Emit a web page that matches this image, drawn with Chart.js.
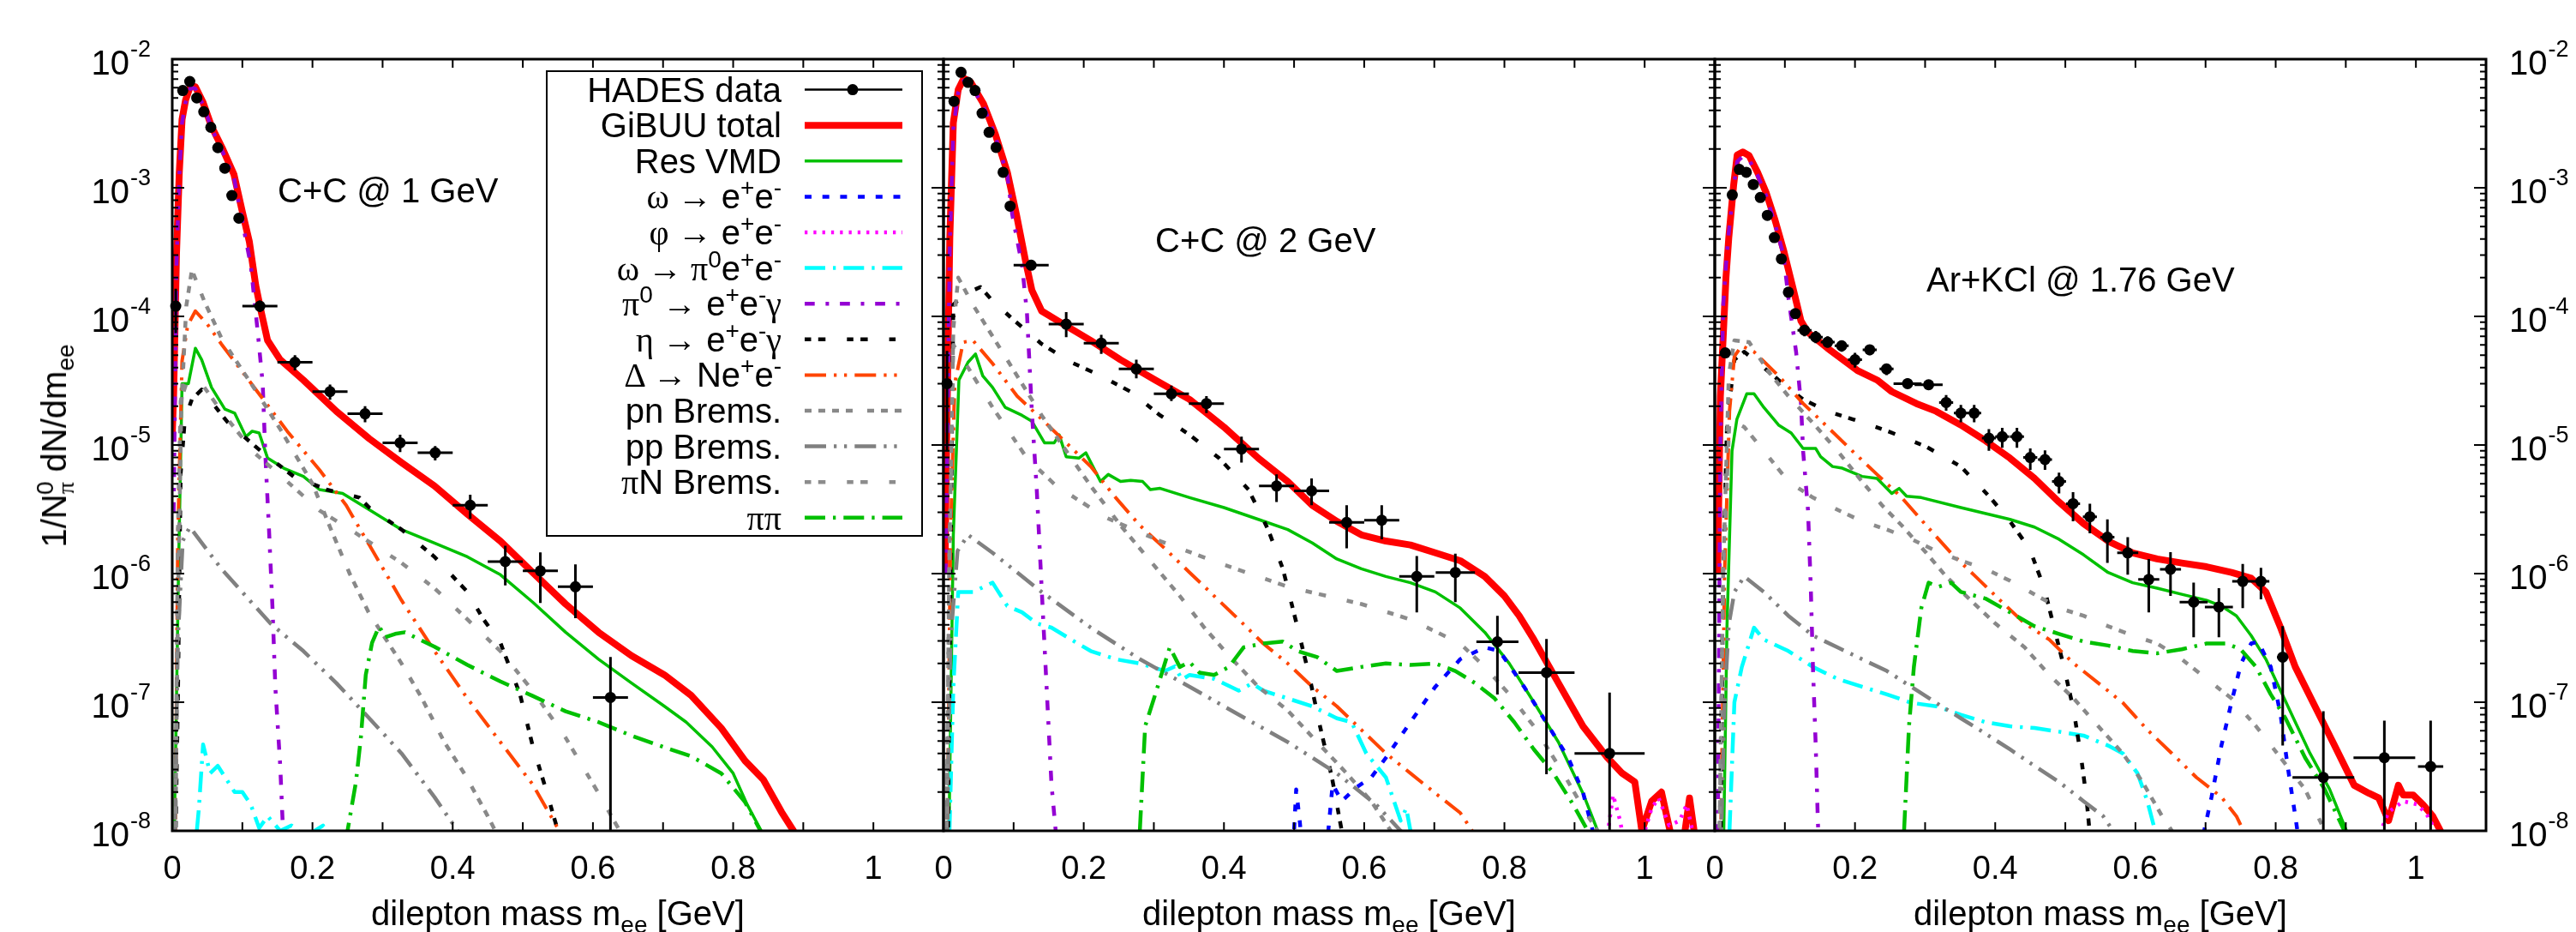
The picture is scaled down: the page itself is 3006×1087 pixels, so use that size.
<!DOCTYPE html>
<html lang="en">
<head>
<meta charset="UTF-8">
<title>Dilepton mass spectra: HADES vs GiBUU</title>
<script src="https://cdn.jsdelivr.net/npm/chart.js@4.4.0/dist/chart.umd.min.js"></script>
<style>
  body { margin: 0; background: #fff; }
  #wrap { position: relative; width: 3006px; height: 1087px; overflow: hidden;
          font-family: "Liberation Sans", Arial, sans-serif; color: #000; }
  canvas { position: absolute; left: 0; top: 0; }
  .txt { position: absolute; font-size: 40px; line-height: 40px; white-space: nowrap; }
  .xtitle { width: 800px; text-align: center; top: 1045px; }
  .g { font-family: "Liberation Serif", "DejaVu Serif", serif; }
  sup, sub { font-size: 28px; line-height: 0; }
  sup { vertical-align: 15px; }
  sub { vertical-align: -9px; }
  #ytitle { left: 63px; top: 520px; transform: translate(-50%, -50%) rotate(-90deg); }
  #legend { position: absolute; left: 637px; top: 82px; width: 436px; height: 540px;
            border: 2px solid #000; }
  #legend .row { position: absolute; right: 163px; font-size: 40px; line-height: 40px;
                 white-space: nowrap; text-align: right; }
  #legend svg { position: absolute; left: 0; top: 0; }
</style>
</head>
<body>
<div id="wrap">
  <canvas id="p1" width="3006" height="1087" data-ylabels="left"></canvas>
  <canvas id="p2" width="3006" height="1087" data-ylabels=""></canvas>
  <canvas id="p3" width="3006" height="1087" data-ylabels="right"></canvas>

  <div class="txt" style="left:324px;top:202px">C+C @ 1 GeV</div>
  <div class="txt" style="left:1348px;top:260px">C+C @ 2 GeV</div>
  <div class="txt" style="left:2248px;top:306px">Ar+KCl @ 1.76 GeV</div>

  <div class="txt xtitle" style="left:251px">dilepton mass m<sub>ee</sub> [GeV]</div>
  <div class="txt xtitle" style="left:1151px">dilepton mass m<sub>ee</sub> [GeV]</div>
  <div class="txt xtitle" style="left:2051px">dilepton mass m<sub>ee</sub> [GeV]</div>

  <div class="txt" id="ytitle">1/N<sub class="g">π</sub><sup style="margin-left:-15px">0</sup> dN/dm<sub>ee</sub></div>

  <div id="legend"></div>
</div>

<script>
// ---- axis ticks ----
const xTicks = [0, 0.1, 0.2, 0.3, 0.4, 0.5, 0.6, 0.7, 0.8, 0.9, 1.0];
const xLabelValues = [0, 0.2, 0.4, 0.6, 0.8, 1];
const xLabels = ['0', '0.2', '0.4', '0.6', '0.8', '1'];
const yDecades = [1e-2, 1e-3, 1e-4, 1e-5, 1e-6, 1e-7, 1e-8];
const yExponents = ['-2', '-3', '-4', '-5', '-6', '-7', '-8'];
const yMinorSteps = [2, 3, 4, 5, 6, 7, 8, 9];

// ---- C+C @ 1 GeV ----
// HADES rows: [x, y, xerr, ylow, yhigh]
const cc1Hades = [
  [0.005, 1.2e-4, 0, 7.4e-5, 1.64e-4],
  [0.015, 5.7e-3, 0, 5.7e-3, 5.7e-3],
  [0.025, 6.7e-3, 0, 6.7e-3, 6.7e-3],
  [0.035, 5.0e-3, 0, 5.0e-3, 5.0e-3],
  [0.045, 3.9e-3, 0, 3.9e-3, 3.9e-3],
  [0.055, 2.95e-3, 0, 2.95e-3, 2.95e-3],
  [0.065, 2.05e-3, 0, 2.05e-3, 2.05e-3],
  [0.075, 1.42e-3, 0, 1.42e-3, 1.42e-3],
  [0.085, 8.7e-4, 0, 8.7e-4, 8.7e-4],
  [0.095, 5.8e-4, 0, 5.8e-4, 5.8e-4],
  [0.125, 1.2e-4, 0.025, 1.08e-4, 1.33e-4],
  [0.175, 4.4e-5, 0.025, 3.8e-5, 5.0e-5],
  [0.225, 2.6e-5, 0.025, 2.25e-5, 2.95e-5],
  [0.275, 1.75e-5, 0.025, 1.5e-5, 2.0e-5],
  [0.325, 1.04e-5, 0.025, 8.8e-6, 1.2e-5],
  [0.375, 8.7e-6, 0.025, 7.6e-6, 9.8e-6],
  [0.425, 3.4e-6, 0.025, 2.67e-6, 4.1e-6],
  [0.475, 1.24e-6, 0.025, 8.1e-7, 1.65e-6],
  [0.525, 1.05e-6, 0.025, 5.9e-7, 1.46e-6],
  [0.575, 7.9e-7, 0.025, 4.5e-7, 1.18e-6],
  [0.625, 1.09e-7, 0.025, 1e-10, 2.25e-7]
];
const cc1Total = [[0,1.2e-5],[0.002,2.5e-5],[0.006,3e-4],[0.010,1.3e-3],[0.014,3.4e-3],[0.019,4.8e-3],[0.026,6.2e-3],[0.033,6.1e-3],[0.044,4.6e-3],[0.056,3.0e-3],[0.072,2.0e-3],[0.088,1.27e-3],[0.100,6.5e-4],[0.110,3.8e-4],[0.119,1.75e-4],[0.126,1.14e-4],[0.136,6.5e-5],[0.154,4.6e-5],[0.187,3.2e-5],[0.234,1.83e-5],[0.281,1.12e-5],[0.327,7.3e-6],[0.374,4.8e-6],[0.421,2.9e-6],[0.468,1.79e-6],[0.514,1.02e-6],[0.561,5.8e-7],[0.608,3.5e-7],[0.655,2.3e-7],[0.702,1.63e-7],[0.740,1.13e-7],[0.783,6.3e-8],[0.817,3.5e-8],[0.843,2.5e-8],[0.869,1.4e-8],[0.886,1.0e-8],[0.9,7e-9]];
const cc1Vmd = [[0.002,5e-9],[0.006,1e-7],[0.009,1.1e-6],[0.014,3.0e-5],[0.023,3.0e-5],[0.033,5.65e-5],[0.042,4.6e-5],[0.056,2.8e-5],[0.075,1.9e-5],[0.089,1.77e-5],[0.105,1.16e-5],[0.114,1.28e-5],[0.124,1.24e-5],[0.136,7.9e-6],[0.159,6.6e-6],[0.187,5.7e-6],[0.21,4.5e-6],[0.243,4.2e-6],[0.281,3.14e-6],[0.327,2.2e-6],[0.374,1.73e-6],[0.421,1.35e-6],[0.468,9.8e-7],[0.514,6.0e-7],[0.561,3.5e-7],[0.608,2.16e-7],[0.655,1.41e-7],[0.702,9.3e-8],[0.733,7.0e-8],[0.77,4.5e-8],[0.8,2.8e-8],[0.82,1.6e-8],[0.84,1.0e-8],[0.86,6e-9]];
const cc1Omega = [[0.70,3e-9],[0.78,5e-9],[0.85,3e-9]];
const cc1Phi = [[0.95,2e-9],[1.02,3e-9]];
const cc1OmegaDalitz = [[0.03,5e-9],[0.038,1.5e-8],[0.044,4.7e-8],[0.054,2.8e-8],[0.065,3.2e-8],[0.089,2.0e-8],[0.1,2.0e-8],[0.112,1.6e-8],[0.124,1.05e-8],[0.136,1.3e-8],[0.154,1.0e-8],[0.17,1.1e-8],[0.19,9e-9],[0.215,1.1e-8],[0.23,6e-9],[0.26,4e-9]];
const cc1Pi0 = [[0.002,3e-6],[0.006,2.5e-4],[0.010,1.2e-3],[0.014,3.2e-3],[0.019,4.6e-3],[0.026,6.0e-3],[0.033,5.9e-3],[0.044,4.4e-3],[0.056,2.9e-3],[0.072,1.9e-3],[0.088,1.2e-3],[0.098,6.2e-4],[0.112,2.5e-4],[0.122,7.5e-5],[0.129,3.0e-5],[0.133,7.9e-6],[0.138,2.2e-6],[0.143,5.4e-7],[0.147,1.32e-7],[0.154,3.2e-8],[0.158,1.0e-8],[0.162,5e-9]];
const cc1Eta = [[0.004,5e-9],[0.008,1e-7],[0.012,6e-6],[0.018,1.6e-5],[0.028,2.26e-5],[0.042,2.7e-5],[0.08,1.48e-5],[0.126,9e-6],[0.173,5.7e-6],[0.22,4.5e-6],[0.267,3.9e-6],[0.281,3.26e-6],[0.327,2.2e-6],[0.374,1.35e-6],[0.421,7.2e-7],[0.444,4.4e-7],[0.468,2.9e-7],[0.496,1.15e-7],[0.514,4.6e-8],[0.533,2.1e-8],[0.55,1.0e-8],[0.56,6e-9]];
const cc1Delta = [[0.004,5e-9],[0.008,2e-6],[0.014,4.5e-5],[0.022,8.5e-5],[0.033,1.1e-4],[0.05,8.7e-5],[0.07,6.1e-5],[0.117,2.8e-5],[0.164,1.28e-5],[0.21,6.4e-6],[0.248,3.4e-6],[0.281,1.67e-6],[0.327,6.2e-7],[0.374,2.5e-7],[0.421,1.07e-7],[0.468,4.9e-8],[0.514,2.3e-8],[0.552,1.0e-8],[0.57,7e-9]];
const cc1Pn = [[0.004,5e-9],[0.008,5e-7],[0.013,2e-5],[0.02,1.2e-4],[0.028,2.3e-4],[0.046,1.3e-4],[0.07,6.8e-5],[0.09,4.6e-5],[0.12,2.6e-5],[0.155,1.3e-5],[0.2,5.0e-6],[0.225,2.3e-6],[0.253,1.0e-6],[0.28,5e-7],[0.327,2e-7],[0.355,1.1e-7],[0.388,4.9e-8],[0.42,2.6e-8],[0.45,1.3e-8],[0.47,8e-9]];
const cc1Pp = [[0.003,5e-9],[0.008,3e-7],[0.015,1.8e-6],[0.025,2.3e-6],[0.07,1.09e-6],[0.14,4.1e-7],[0.187,2.5e-7],[0.234,1.41e-7],[0.281,7.5e-8],[0.327,4e-8],[0.374,1.83e-8],[0.407,1.0e-8],[0.42,7e-9]];
const cc1PiN = [[0.004,5e-9],[0.008,2e-6],[0.012,2.2e-5],[0.02,3e-5],[0.035,3.1e-5],[0.042,3.0e-5],[0.07,1.83e-5],[0.117,8.7e-6],[0.159,5.5e-6],[0.21,3.1e-6],[0.262,2.06e-6],[0.327,1.21e-6],[0.374,7.7e-7],[0.421,4.4e-7],[0.468,2.5e-7],[0.514,1.23e-7],[0.561,5.3e-8],[0.608,1.96e-8],[0.636,1.05e-8],[0.65,7e-9]];
const cc1PiPi = [[0.245,4e-9],[0.25,1e-8],[0.262,2.4e-8],[0.269,5.3e-8],[0.276,1.63e-7],[0.285,2.9e-7],[0.295,3.9e-7],[0.304,3.2e-7],[0.318,3.4e-7],[0.332,3.5e-7],[0.346,3.2e-7],[0.374,2.7e-7],[0.421,1.95e-7],[0.468,1.45e-7],[0.514,1.12e-7],[0.561,8.5e-8],[0.608,7e-8],[0.655,5.5e-8],[0.7,4.5e-8],[0.74,3.8e-8],[0.783,2.8e-8],[0.817,1.67e-8],[0.839,1.0e-8],[0.85,7e-9]];

// ---- C+C @ 2 GeV ----
const cc2Hades = [
  [0.005, 3.0e-5, 0, 8.9e-6, 5.4e-5],
  [0.015, 4.7e-3, 0, 4.7e-3, 4.7e-3],
  [0.025, 7.9e-3, 0, 7.9e-3, 7.9e-3],
  [0.035, 6.6e-3, 0, 6.6e-3, 6.6e-3],
  [0.045, 5.7e-3, 0, 5.7e-3, 5.7e-3],
  [0.055, 3.8e-3, 0, 3.8e-3, 3.8e-3],
  [0.065, 2.7e-3, 0, 2.7e-3, 2.7e-3],
  [0.075, 2.06e-3, 0, 2.06e-3, 2.06e-3],
  [0.085, 1.32e-3, 0, 1.32e-3, 1.32e-3],
  [0.095, 7.2e-4, 0, 7.2e-4, 7.2e-4],
  [0.125, 2.5e-4, 0.025, 2.3e-4, 2.7e-4],
  [0.175, 8.7e-5, 0.025, 6.9e-5, 1.08e-4],
  [0.225, 6.2e-5, 0.025, 5.1e-5, 7.2e-5],
  [0.275, 3.9e-5, 0.025, 3.3e-5, 4.6e-5],
  [0.325, 2.5e-5, 0.025, 2.2e-5, 2.9e-5],
  [0.375, 2.1e-5, 0.025, 1.77e-5, 2.4e-5],
  [0.425, 9.3e-6, 0.025, 7.3e-6, 1.16e-5],
  [0.475, 4.8e-6, 0.025, 3.6e-6, 5.9e-6],
  [0.525, 4.4e-6, 0.025, 3.4e-6, 5.5e-6],
  [0.575, 2.5e-6, 0.025, 1.57e-6, 3.4e-6],
  [0.625, 2.6e-6, 0.025, 1.85e-6, 3.4e-6],
  [0.675, 9.5e-7, 0.025, 5.0e-7, 1.37e-6],
  [0.73, 1.02e-6, 0.028, 6.0e-7, 1.43e-6],
  [0.79, 2.95e-7, 0.03, 1.15e-7, 4.7e-7],
  [0.86, 1.7e-7, 0.04, 2.75e-8, 3.1e-7],
  [0.95, 4.0e-8, 0.05, 1e-10, 1.19e-7]
];
const cc2Total = [[0.002,1e-6],[0.005,1.7e-5],[0.009,4.1e-4],[0.014,3.2e-3],[0.021,5.8e-3],[0.029,7.1e-3],[0.039,6.6e-3],[0.057,4.5e-3],[0.074,2.6e-3],[0.091,1.32e-3],[0.104,6.2e-4],[0.117,2.7e-4],[0.126,1.6e-4],[0.14,1.1e-4],[0.168,8.9e-5],[0.21,6.5e-5],[0.2525,4.6e-5],[0.302,3.2e-5],[0.351,2.26e-5],[0.4,1.38e-5],[0.449,7.9e-6],[0.491,5.2e-6],[0.526,3.4e-6],[0.561,2.55e-6],[0.596,2.0e-6],[0.631,1.79e-6],[0.666,1.67e-6],[0.7015,1.45e-6],[0.737,1.26e-6],[0.772,9.5e-7],[0.8,6.7e-7],[0.821,4.7e-7],[0.842,3.07e-7],[0.877,1.41e-7],[0.912,6.5e-8],[0.947,3.7e-8],[0.968,2.8e-8],[0.986,2.4e-8],[0.996,1.0e-8],[1.01,1.7e-8],[1.024,2.0e-8],[1.038,9e-9],[1.05,5e-9],[1.064,1.8e-8],[1.073,8e-9],[1.08,5e-9]];
const cc2Vmd = [[0.007,5e-9],[0.014,2e-6],[0.022,3.2e-5],[0.035,4.4e-5],[0.0456,5.1e-5],[0.056,3.45e-5],[0.07,2.8e-5],[0.088,1.96e-5],[0.112,1.7e-5],[0.126,1.53e-5],[0.144,1.04e-5],[0.158,1.04e-5],[0.165,1.2e-5],[0.175,8.1e-6],[0.193,7.9e-6],[0.203,8.7e-6],[0.224,5.2e-6],[0.235,5.9e-6],[0.2525,5.2e-6],[0.267,5.3e-6],[0.284,5.2e-6],[0.295,4.5e-6],[0.309,4.6e-6],[0.351,3.9e-6],[0.4,3.26e-6],[0.449,2.64e-6],[0.491,2.2e-6],[0.526,1.73e-6],[0.561,1.3e-6],[0.596,1.09e-6],[0.631,9.5e-7],[0.666,8.5e-7],[0.7015,7.2e-7],[0.737,5.4e-7],[0.772,3.5e-7],[0.807,2.0e-7],[0.842,1.0e-7],[0.877,4.9e-8],[0.912,1.96e-8],[0.933,1.0e-8],[0.945,6e-9]];
const cc2Omega = [[0.49,4e-9],[0.5,1e-8],[0.503,2.1e-8],[0.508,1.2e-8],[0.513,6e-9],[0.545,6e-9],[0.555,2.3e-8],[0.568,1.7e-8],[0.59,2.2e-8],[0.61,2.6e-8],[0.631,3.7e-8],[0.666,7e-8],[0.7015,1.32e-7],[0.737,2.16e-7],[0.772,2.67e-7],[0.793,2.5e-7],[0.828,1.32e-7],[0.863,6.5e-8],[0.891,3.7e-8],[0.912,2e-8],[0.926,1.0e-8],[0.935,6e-9]];
const cc2Phi = [[0.94,5e-9],[0.955,1.9e-8],[0.965,1.2e-8],[0.975,6e-9],[0.995,8e-9],[1.01,1.5e-8],[1.02,1.8e-8],[1.035,1.1e-8],[1.05,1.2e-8],[1.06,1.6e-8],[1.07,9e-9],[1.08,5e-9]];
const cc2OmegaDalitz = [[0.007,5e-9],[0.014,1.3e-7],[0.021,7.2e-7],[0.042,7.2e-7],[0.07,8.5e-7],[0.091,5.6e-7],[0.112,5e-7],[0.133,4.1e-7],[0.154,3.8e-7],[0.182,3.07e-7],[0.21,2.5e-7],[0.2455,2.16e-7],[0.28,2.0e-7],[0.316,1.75e-7],[0.33,1.9e-7],[0.34,1.5e-7],[0.351,1.63e-7],[0.386,1.52e-7],[0.421,1.23e-7],[0.44,1.4e-7],[0.456,1.23e-7],[0.491,1.07e-7],[0.526,9.3e-8],[0.561,7.5e-8],[0.582,7e-8],[0.603,4e-8],[0.631,2.6e-8],[0.652,1.2e-8],[0.66,1.5e-8],[0.666,1.0e-8],[0.675,6e-9]];
const cc2Pi0 = [[0.003,1e-6],[0.009,3.5e-4],[0.014,2.9e-3],[0.021,5.5e-3],[0.029,6.8e-3],[0.039,6.3e-3],[0.057,4.3e-3],[0.074,2.5e-3],[0.091,1.25e-3],[0.098,6.2e-4],[0.112,2.5e-4],[0.119,1.07e-4],[0.126,1.83e-5],[0.133,4.5e-6],[0.14,7.7e-7],[0.147,1.32e-7],[0.154,2.3e-8],[0.16,1.0e-8],[0.165,5e-9]];
const cc2Eta = [[0.006,5e-9],[0.01,1e-6],[0.014,1.23e-4],[0.028,1.47e-4],[0.0526,1.69e-4],[0.07,1.32e-4],[0.098,9.6e-5],[0.14,6.1e-5],[0.182,4.4e-5],[0.2245,3.45e-5],[0.2666,2.6e-5],[0.309,1.7e-5],[0.351,1.2e-5],[0.393,7.9e-6],[0.435,4.5e-6],[0.463,2.2e-6],[0.484,1.09e-6],[0.505,3.8e-7],[0.5226,1.52e-7],[0.537,6.5e-8],[0.554,2.6e-8],[0.568,1.0e-8],[0.575,6e-9]];
const cc2Delta = [[0.005,5e-9],[0.01,2e-6],[0.016,3e-5],[0.028,6.3e-5],[0.042,6.5e-5],[0.07,4.3e-5],[0.105,2.4e-5],[0.14,1.59e-5],[0.175,1.04e-5],[0.21,6.8e-6],[0.2455,3.9e-6],[0.28,2.37e-6],[0.316,1.56e-6],[0.351,1.02e-6],[0.386,6.7e-7],[0.421,4.4e-7],[0.456,2.86e-7],[0.491,2.0e-7],[0.526,1.32e-7],[0.561,9.3e-8],[0.596,6.1e-8],[0.631,4e-8],[0.666,2.8e-8],[0.7015,1.96e-8],[0.737,1.38e-8],[0.754,1.0e-8],[0.77,7e-9]];
const cc2Pn = [[0.004,5e-9],[0.008,1e-6],[0.014,8e-5],[0.021,2.0e-4],[0.042,1.23e-4],[0.07,7e-5],[0.105,3.45e-5],[0.14,1.7e-5],[0.175,9e-6],[0.21,4.8e-6],[0.2525,2.37e-6],[0.2946,1.26e-6],[0.337,6.7e-7],[0.372,3.8e-7],[0.407,2.3e-7],[0.449,1.32e-7],[0.491,8.6e-8],[0.533,4.9e-8],[0.575,2.8e-8],[0.61,1.7e-8],[0.638,1.0e-8],[0.65,7e-9]];
const cc2Pp = [[0.004,5e-9],[0.01,3e-7],[0.02,1.5e-6],[0.035,2.0e-6],[0.07,1.45e-6],[0.14,7.2e-7],[0.21,3.8e-7],[0.28,2.16e-7],[0.351,1.32e-7],[0.421,8e-8],[0.491,4.9e-8],[0.561,2.8e-8],[0.617,1.6e-8],[0.652,1.0e-8],[0.665,7e-9]];
const cc2PiN = [[0.004,5e-9],[0.008,1e-6],[0.014,6e-5],[0.035,4e-5],[0.07,1.96e-5],[0.119,7.9e-6],[0.161,4.8e-6],[0.2315,2.73e-6],[0.309,1.79e-6],[0.393,1.21e-6],[0.491,7.9e-7],[0.596,5.8e-7],[0.666,4.4e-7],[0.737,2.86e-7],[0.772,1.88e-7],[0.807,1.15e-7],[0.842,6.5e-8],[0.884,2.8e-8],[0.919,1.3e-8],[0.933,1.0e-8],[0.94,7e-9]];
const cc2PiPi = [[0.275,5e-9],[0.28,1e-8],[0.2876,6.5e-8],[0.302,1.15e-7],[0.3227,2.67e-7],[0.337,1.88e-7],[0.351,2.05e-7],[0.365,1.7e-7],[0.386,1.63e-7],[0.407,1.88e-7],[0.428,2.67e-7],[0.456,2.86e-7],[0.484,2.96e-7],[0.505,2.5e-7],[0.533,2.24e-7],[0.561,1.75e-7],[0.596,1.88e-7],[0.631,2.0e-7],[0.666,1.95e-7],[0.7015,2.0e-7],[0.73,1.75e-7],[0.758,1.41e-7],[0.786,1.07e-7],[0.814,7e-8],[0.842,4.3e-8],[0.87,2.8e-8],[0.898,1.6e-8],[0.919,1.0e-8],[0.93,7e-9]];

// ---- Ar+KCl @ 1.76 GeV ----
const arHades = [
  [0.015, 5.2e-5, 0, 5.2e-5, 5.2e-5],
  [0.025, 8.8e-4, 0, 8.8e-4, 8.8e-4],
  [0.035, 1.39e-3, 0, 1.39e-3, 1.39e-3],
  [0.045, 1.32e-3, 0, 1.32e-3, 1.32e-3],
  [0.055, 1.06e-3, 0, 1.06e-3, 1.06e-3],
  [0.065, 8.4e-4, 0, 8.4e-4, 8.4e-4],
  [0.075, 6.1e-4, 0, 6.1e-4, 6.1e-4],
  [0.085, 4.1e-4, 0, 4.1e-4, 4.1e-4],
  [0.095, 2.8e-4, 0, 2.8e-4, 2.8e-4],
  [0.105, 1.54e-4, 0, 1.54e-4, 1.54e-4],
  [0.115, 1.05e-4, 0, 1.05e-4, 1.05e-4],
  [0.128, 7.8e-5, 0.01, 7.0e-5, 8.6e-5],
  [0.144, 6.9e-5, 0.01, 6.2e-5, 7.7e-5],
  [0.161, 6.3e-5, 0.01, 5.7e-5, 7.0e-5],
  [0.181, 5.9e-5, 0.01, 5.3e-5, 6.5e-5],
  [0.200, 4.6e-5, 0.01, 4.0e-5, 5.2e-5],
  [0.221, 5.5e-5, 0.01, 5.0e-5, 6.0e-5],
  [0.245, 3.9e-5, 0.01, 3.5e-5, 4.3e-5],
  [0.275, 3.0e-5, 0.02, 2.75e-5, 3.3e-5],
  [0.305, 2.94e-5, 0.02, 2.7e-5, 3.2e-5],
  [0.330, 2.14e-5, 0.01, 1.85e-5, 2.45e-5],
  [0.351, 1.77e-5, 0.01, 1.5e-5, 2.05e-5],
  [0.370, 1.77e-5, 0.01, 1.5e-5, 2.05e-5],
  [0.391, 1.13e-5, 0.01, 9.0e-6, 1.33e-5],
  [0.410, 1.16e-5, 0.01, 9.5e-6, 1.36e-5],
  [0.431, 1.16e-5, 0.01, 9.5e-6, 1.36e-5],
  [0.450, 8.0e-6, 0.01, 6.4e-6, 9.4e-6],
  [0.471, 7.7e-6, 0.01, 6.4e-6, 9.1e-6],
  [0.491, 5.2e-6, 0.01, 4.2e-6, 6.1e-6],
  [0.511, 3.5e-6, 0.01, 2.55e-6, 4.3e-6],
  [0.535, 2.77e-6, 0.01, 2.06e-6, 3.5e-6],
  [0.560, 1.92e-6, 0.01, 1.21e-6, 2.64e-6],
  [0.589, 1.45e-6, 0.015, 9.8e-7, 1.92e-6],
  [0.619, 9.0e-7, 0.015, 5.0e-7, 1.3e-6],
  [0.650, 1.08e-6, 0.015, 6.7e-7, 1.47e-6],
  [0.683, 6.0e-7, 0.02, 3.2e-7, 8.5e-7],
  [0.719, 5.5e-7, 0.02, 3.2e-7, 7.7e-7],
  [0.753, 8.7e-7, 0.015, 5.4e-7, 1.19e-6],
  [0.779, 8.7e-7, 0.012, 6.3e-7, 1.11e-6],
  [0.810, 2.24e-7, 0.008, 4.6e-8, 3.9e-7],
  [0.868, 2.6e-8, 0.044, 1e-10, 8.5e-8],
  [0.955, 3.7e-8, 0.044, 1e-10, 7.2e-8],
  [1.021, 3.16e-8, 0.018, 1e-10, 7.2e-8]
];
const arTotal = [[0.004,1e-6],[0.008,2.4e-5],[0.016,2e-4],[0.02,4.1e-4],[0.027,1.06e-3],[0.032,1.8e-3],[0.04,1.9e-3],[0.049,1.78e-3],[0.061,1.32e-3],[0.0735,9.1e-4],[0.086,5.6e-4],[0.098,3.3e-4],[0.1105,1.75e-4],[0.123,9.2e-5],[0.133,7.5e-5],[0.161,5.65e-5],[0.2034,3.8e-5],[0.2315,3.2e-5],[0.2525,2.6e-5],[0.2876,2.1e-5],[0.3157,1.83e-5],[0.351,1.43e-5],[0.386,1.08e-5],[0.421,7.9e-6],[0.456,5.5e-6],[0.491,3.6e-6],[0.526,2.45e-6],[0.561,1.79e-6],[0.596,1.45e-6],[0.631,1.3e-6],[0.666,1.21e-6],[0.7015,1.13e-6],[0.737,1.02e-6],[0.765,9.2e-7],[0.786,7.2e-7],[0.807,3.8e-7],[0.828,1.88e-7],[0.856,9.3e-8],[0.884,4.6e-8],[0.912,2.26e-8],[0.933,1.96e-8],[0.947,1.8e-8],[0.961,1.2e-8],[0.975,2.26e-8],[0.982,1.9e-8],[0.996,1.9e-8],[1.01,1.6e-8],[1.024,1.3e-8],[1.035,1.0e-8],[1.05,5e-9]];
const arVmd = [[0.012,5e-9],[0.0175,4e-7],[0.0246,9e-6],[0.0316,1.59e-5],[0.0456,2.5e-5],[0.056,2.5e-5],[0.07,1.96e-5],[0.091,1.43e-5],[0.109,1.24e-5],[0.126,9.4e-6],[0.144,9.4e-6],[0.151,8.1e-6],[0.168,6.8e-6],[0.182,6.6e-6],[0.21,5.7e-6],[0.2315,5.5e-6],[0.2525,4.2e-6],[0.263,4.6e-6],[0.2736,4.0e-6],[0.2946,3.9e-6],[0.351,3.26e-6],[0.421,2.64e-6],[0.456,2.3e-6],[0.491,1.85e-6],[0.526,1.4e-6],[0.561,1.02e-6],[0.596,8.5e-7],[0.631,7.7e-7],[0.666,6.9e-7],[0.7015,6.2e-7],[0.7226,5.6e-7],[0.744,4.7e-7],[0.765,3.3e-7],[0.786,2.16e-7],[0.807,1.23e-7],[0.828,7e-8],[0.849,4e-8],[0.877,2.1e-8],[0.901,1.0e-8],[0.91,7e-9]];
const arOmega = [[0.69,5e-9],[0.698,1e-8],[0.7085,1.83e-8],[0.7226,4.6e-8],[0.737,1e-7],[0.7506,2.0e-7],[0.765,2.86e-7],[0.775,2.96e-7],[0.793,1.88e-7],[0.807,8e-8],[0.817,3.2e-8],[0.828,1.3e-8],[0.831,1.0e-8],[0.84,5e-9]];
const arPhi = [[0.945,5e-9],[0.95,1e-8],[0.961,1.4e-8],[0.982,1.7e-8],[1.003,1.6e-8],[1.017,1.3e-8],[1.028,1.0e-8],[1.035,6e-9]];
const arOmegaDalitz = [[0.018,5e-9],[0.021,1e-8],[0.028,1e-7],[0.0386,1.88e-7],[0.056,3.8e-7],[0.07,3.07e-7],[0.105,2.5e-7],[0.14,1.88e-7],[0.175,1.52e-7],[0.21,1.32e-7],[0.2455,1.15e-7],[0.28,9.9e-8],[0.3157,9.3e-8],[0.351,8e-8],[0.386,7e-8],[0.421,6.5e-8],[0.456,6.3e-8],[0.491,5.9e-8],[0.526,5.5e-8],[0.561,4.6e-8],[0.582,4e-8],[0.603,2.8e-8],[0.617,1.7e-8],[0.628,1.0e-8],[0.635,6e-9]];
const arPi0 = [[0.004,5e-9],[0.008,1e-5],[0.012,1.2e-4],[0.016,2.5e-4],[0.02,4.5e-4],[0.027,1.0e-3],[0.032,1.6e-3],[0.04,1.75e-3],[0.049,1.65e-3],[0.061,1.25e-3],[0.0735,8.6e-4],[0.086,5.2e-4],[0.098,3.0e-4],[0.105,1.4e-4],[0.116,5.3e-5],[0.123,2.1e-5],[0.126,9e-6],[0.133,3.1e-6],[0.137,7.7e-7],[0.14,1.88e-7],[0.144,4.6e-8],[0.147,1.2e-8],[0.15,5e-9]];
const arEta = [[0.008,5e-9],[0.012,1e-6],[0.0175,1.48e-5],[0.028,4.6e-5],[0.042,5.3e-5],[0.063,4.3e-5],[0.091,3.2e-5],[0.126,2.26e-5],[0.161,1.83e-5],[0.196,1.59e-5],[0.2455,1.29e-5],[0.3016,9.7e-6],[0.351,6.8e-6],[0.393,3.9e-6],[0.421,2.55e-6],[0.449,1.56e-6],[0.47,7.7e-7],[0.484,3.8e-7],[0.498,1.88e-7],[0.512,8.6e-8],[0.5226,3.7e-8],[0.53,1.83e-8],[0.5345,1.0e-8],[0.54,6e-9]];
const arDelta = [[0.008,5e-9],[0.014,1e-6],[0.021,1.83e-5],[0.028,4.9e-5],[0.0386,5.9e-5],[0.056,5.3e-5],[0.091,3.45e-5],[0.126,2.1e-5],[0.161,1.38e-5],[0.196,9e-6],[0.2315,5.9e-6],[0.2666,3.9e-6],[0.3016,2.37e-6],[0.3367,1.45e-6],[0.372,9.5e-7],[0.407,6.2e-7],[0.442,4.1e-7],[0.477,3.07e-7],[0.512,2.0e-7],[0.547,1.41e-7],[0.582,9.9e-8],[0.617,6.1e-8],[0.652,4e-8],[0.687,2.6e-8],[0.7226,1.83e-8],[0.744,1.3e-8],[0.754,1.0e-8],[0.765,7e-9]];
const arPn = [[0.006,5e-9],[0.012,1e-6],[0.02,3.5e-5],[0.028,6.5e-5],[0.049,6.3e-5],[0.077,3.7e-5],[0.105,2.4e-5],[0.14,1.48e-5],[0.175,9e-6],[0.21,5.2e-6],[0.2385,3.4e-6],[0.2666,2.37e-6],[0.3016,1.45e-6],[0.33,9.5e-7],[0.365,6.2e-7],[0.4,4.1e-7],[0.442,2.67e-7],[0.477,1.63e-7],[0.512,1.07e-7],[0.547,6.5e-8],[0.582,4e-8],[0.61,2.4e-8],[0.638,1.3e-8],[0.652,1.0e-8],[0.66,7e-9]];
const arPp = [[0.008,5e-9],[0.014,1e-7],[0.02,4e-7],[0.028,7.2e-7],[0.042,9.5e-7],[0.07,7.2e-7],[0.105,4.7e-7],[0.14,3.3e-7],[0.175,2.67e-7],[0.21,2.16e-7],[0.2455,1.75e-7],[0.28,1.32e-7],[0.3157,9.9e-8],[0.351,7.5e-8],[0.386,5.7e-8],[0.421,4.3e-8],[0.456,3.2e-8],[0.491,2.4e-8],[0.526,1.7e-8],[0.554,1.3e-8],[0.568,1.0e-8],[0.58,7e-9]];
const arPiN = [[0.006,5e-9],[0.012,1e-6],[0.021,1.59e-5],[0.042,1.38e-5],[0.07,9e-6],[0.105,5.2e-6],[0.14,3.9e-6],[0.175,3.14e-6],[0.21,2.55e-6],[0.2455,2.2e-6],[0.2806,1.85e-6],[0.3157,1.5e-6],[0.351,1.26e-6],[0.386,1.09e-6],[0.421,8.8e-7],[0.456,6.9e-7],[0.491,5.4e-7],[0.526,4.7e-7],[0.561,3.9e-7],[0.596,3.3e-7],[0.631,2.86e-7],[0.666,2.16e-7],[0.7015,1.52e-7],[0.737,1.07e-7],[0.772,6.5e-8],[0.807,3.7e-8],[0.842,2.1e-8],[0.863,1.2e-8],[0.87,1.0e-8],[0.88,7e-9]];
const arPiPi = [[0.265,5e-9],[0.27,1e-8],[0.277,6.5e-8],[0.284,1.88e-7],[0.2946,5.4e-7],[0.305,8.5e-7],[0.319,7.9e-7],[0.337,8.5e-7],[0.351,7.2e-7],[0.386,6.4e-7],[0.421,5e-7],[0.456,3.9e-7],[0.491,3.4e-7],[0.526,2.96e-7],[0.561,2.76e-7],[0.596,2.5e-7],[0.631,2.4e-7],[0.666,2.58e-7],[0.7015,2.86e-7],[0.73,2.86e-7],[0.75,2.58e-7],[0.772,1.88e-7],[0.793,1.15e-7],[0.814,7.5e-8],[0.842,3.7e-8],[0.87,2.1e-8],[0.898,1.0e-8],[0.91,7e-9]];

// ---- series styles and legend ----
const seriesKeys = ['total', 'vmd', 'omega', 'phi', 'omegaDalitz', 'pi0', 'eta', 'delta', 'pn', 'pp', 'piN', 'pipi'];
const seriesNames = ['GiBUU total', 'Res VMD', 'ω → e+e-', 'φ → e+e-', 'ω → π0e+e-', 'π0 → e+e-γ', 'η → e+e-γ', 'Δ → Ne+e-', 'pn Brems.', 'pp Brems.', 'πN Brems.', 'ππ'];
const styles = {
  total:       { color: '#ff0000', width: 8,   dash: [] },
  vmd:         { color: '#00c000', width: 3.5, dash: [] },
  omega:       { color: '#0000ff', width: 4.5, dash: [8, 12.7] },
  phi:         { color: '#ff00ff', width: 4.5, dash: [3.3, 7] },
  omegaDalitz: { color: '#00ffff', width: 4.5, dash: [24, 9, 3.3, 9] },
  pi0:         { color: '#9400d3', width: 4.5, dash: [11.7, 12.7, 4, 12.7] },
  eta:         { color: '#000000', width: 4.5, dash: [7.5, 8.3, 8.5, 25] },
  delta:       { color: '#ff4500', width: 4,   dash: [25, 9, 3.3, 8.7, 3.3, 9] },
  pn:          { color: '#888888', width: 4.5, dash: [8, 8, 8, 8, 8, 8, 8, 17] },
  pp:          { color: '#808080', width: 4.5, dash: [25, 9, 3.3, 8.7, 3.3, 9] },
  piN:         { color: '#8c8c8c', width: 4.5, dash: [7.5, 8.3, 8.5, 25] },
  pipi:        { color: '#00c000', width: 4.5, dash: [24, 9, 3.3, 9] }
};
const legendLabels = [
  'HADES data',
  'GiBUU total',
  'Res VMD',
  '<span class="g">ω →</span> e<sup>+</sup>e<sup>-</sup>',
  '<span class="g">φ →</span> e<sup>+</sup>e<sup>-</sup>',
  '<span class="g">ω → π</span><sup>0</sup>e<sup>+</sup>e<sup>-</sup>',
  '<span class="g">π</span><sup>0</sup> <span class="g">→</span> e<sup>+</sup>e<sup>-</sup><span class="g">γ</span>',
  '<span class="g">η →</span> e<sup>+</sup>e<sup>-</sup><span class="g">γ</span>',
  '<span class="g">Δ →</span> Ne<sup>+</sup>e<sup>-</sup>',
  'pn Brems.',
  'pp Brems.',
  '<span class="g">π</span>N Brems.',
  '<span class="g">ππ</span>'
];

const panels = [
  { id: 'p1', left: 201, hades: cc1Hades, curves: [cc1Total, cc1Vmd, cc1Omega, cc1Phi, cc1OmegaDalitz, cc1Pi0, cc1Eta, cc1Delta, cc1Pn, cc1Pp, cc1PiN, cc1PiPi] },
  { id: 'p2', left: 1101, hades: cc2Hades, curves: [cc2Total, cc2Vmd, cc2Omega, cc2Phi, cc2OmegaDalitz, cc2Pi0, cc2Eta, cc2Delta, cc2Pn, cc2Pp, cc2PiN, cc2PiPi] },
  { id: 'p3', left: 2001, hades: arHades, curves: [arTotal, arVmd, arOmega, arPhi, arOmegaDalitz, arPi0, arEta, arDelta, arPn, arPp, arPiN, arPiPi] }
];

const FONT = '"Liberation Sans", Arial, sans-serif';

// frame, inward ticks and tick labels, all placed through the chart's scales
const framePlugin = {
  id: 'frame',
  afterDraw(chart) {
    const { ctx, chartArea: a, scales: { x, y } } = chart;
    ctx.save();
    ctx.strokeStyle = '#000';
    ctx.lineWidth = 2;
    ctx.beginPath();
    xTicks.forEach(v => {
      const px = x.getPixelForValue(v);
      ctx.moveTo(px, a.bottom); ctx.lineTo(px, a.bottom - 10);
      ctx.moveTo(px, a.top); ctx.lineTo(px, a.top + 10);
    });
    yDecades.forEach((d, i) => {
      const py = y.getPixelForValue(d);
      ctx.moveTo(a.left, py); ctx.lineTo(a.left + 14, py);
      ctx.moveTo(a.right, py); ctx.lineTo(a.right - 14, py);
      if (i === yDecades.length - 1) return;
      yMinorSteps.forEach(m => {
        const pm = y.getPixelForValue(m * yDecades[i + 1]);
        ctx.moveTo(a.left, pm); ctx.lineTo(a.left + 7, pm);
        ctx.moveTo(a.right, pm); ctx.lineTo(a.right - 7, pm);
      });
    });
    ctx.stroke();
    ctx.lineWidth = 3;
    ctx.strokeRect(a.left, a.top, a.right - a.left, a.bottom - a.top);

    ctx.fillStyle = '#000';
    ctx.textBaseline = 'alphabetic';
    ctx.font = '38px ' + FONT;
    ctx.textAlign = 'center';
    xLabelValues.forEach((v, i) => ctx.fillText(xLabels[i], x.getPixelForValue(v), a.bottom + 56));

    const side = chart.canvas.dataset.ylabels;
    if (side) {
      ctx.textAlign = 'left';
      yDecades.forEach((d, i) => {
        const py = y.getPixelForValue(d);
        ctx.font = '40px ' + FONT;
        const wBase = ctx.measureText('10').width;
        ctx.font = '27px ' + FONT;
        const wExp = ctx.measureText(yExponents[i]).width;
        const x0 = side === 'left' ? a.left - 26 - wBase - wExp : a.right + 27;
        ctx.font = '40px ' + FONT;
        ctx.fillText('10', x0, py + 18);
        ctx.font = '27px ' + FONT;
        ctx.fillText(yExponents[i], x0 + wBase + 1, py - 3);
      });
    }
    ctx.restore();
  }
};

// x and y error bars for datasets that carry errorRows
const errorBarPlugin = {
  id: 'errorBars',
  afterDatasetsDraw(chart) {
    const { ctx, chartArea: a, scales: { x, y } } = chart;
    chart.data.datasets.forEach(ds => {
      if (!ds.errorRows) return;
      ctx.save();
      ctx.beginPath();
      ctx.rect(a.left - 6, a.top, a.right - a.left + 12, a.bottom - a.top);
      ctx.clip();
      ctx.strokeStyle = '#000';
      ctx.lineWidth = 3;
      ctx.beginPath();
      ds.errorRows.forEach(([xv, yv, dx, lo, hi]) => {
        const px = x.getPixelForValue(xv), py = y.getPixelForValue(yv);
        if (dx > 0) {
          ctx.moveTo(x.getPixelForValue(xv - dx), py);
          ctx.lineTo(x.getPixelForValue(xv + dx), py);
        }
        if (hi > lo) {
          ctx.moveTo(px, y.getPixelForValue(lo));
          ctx.lineTo(px, y.getPixelForValue(hi));
        }
      });
      ctx.stroke();
      ctx.restore();
    });
  }
};

function makePanel(p) {
  const datasets = [{
    label: 'HADES data',
    data: p.hades.map(r => ({ x: r[0], y: r[1] })),
    errorRows: p.hades,
    showLine: false,
    pointRadius: 6.5,
    pointBackgroundColor: '#000',
    pointBorderWidth: 0,
    order: 0,
    clip: 8
  }];
  seriesKeys.forEach((key, i) => {
    const s = styles[key];
    datasets.push({
      label: seriesNames[i],
      data: p.curves[i].map(pt => ({ x: pt[0], y: pt[1] })),
      borderColor: s.color,
      borderWidth: s.width,
      borderDash: s.dash,
      borderCapStyle: 'butt',
      borderJoinStyle: 'round',
      pointRadius: 0,
      tension: 0,
      fill: false,
      order: 100 - i,
      clip: 0
    });
  });
  return new Chart(document.getElementById(p.id), {
    type: 'line',
    data: { datasets },
    options: {
      responsive: false,
      animation: false,
      devicePixelRatio: 1,
      layout: { padding: { left: p.left, right: 3006 - p.left - 900, top: 69, bottom: 118 } },
      scales: {
        x: { type: 'linear', min: 0, max: 1.1, display: false },
        y: { type: 'logarithmic', min: 1e-8, max: 1e-2, display: false }
      },
      plugins: { legend: { display: false }, tooltip: { enabled: false } }
    },
    plugins: [framePlugin, errorBarPlugin]
  });
}

panels.forEach(makePanel);

// legend box (text as HTML, samples as SVG strokes with the same styles)
function buildLegend() {
  const box = document.getElementById('legend');
  const rowTop = 20.6, rowStep = 41.6;
  const svgNS = 'http://www.w3.org/2000/svg';
  const svg = document.createElementNS(svgNS, 'svg');
  svg.setAttribute('width', '436');
  svg.setAttribute('height', '540');
  const keys = ['data'].concat(seriesKeys);
  keys.forEach((key, i) => {
    const cy = rowTop + i * rowStep;
    const div = document.createElement('div');
    div.className = 'row';
    div.style.top = (cy - 20) + 'px';
    div.innerHTML = legendLabels[i];
    box.appendChild(div);
    const line = document.createElementNS(svgNS, 'line');
    line.setAttribute('x1', '300'); line.setAttribute('x2', '414');
    line.setAttribute('y1', cy); line.setAttribute('y2', cy);
    if (key === 'data') {
      line.setAttribute('stroke', '#000');
      line.setAttribute('stroke-width', '2.5');
      svg.appendChild(line);
      const dot = document.createElementNS(svgNS, 'circle');
      dot.setAttribute('cx', '356'); dot.setAttribute('cy', cy); dot.setAttribute('r', '6.5');
      svg.appendChild(dot);
    } else {
      const s = styles[key];
      line.setAttribute('stroke', s.color);
      line.setAttribute('stroke-width', s.width);
      if (s.dash.length) line.setAttribute('stroke-dasharray', s.dash.join(' '));
      svg.appendChild(line);
    }
  });
  box.appendChild(svg);
}
buildLegend();
</script>
</body>
</html>
